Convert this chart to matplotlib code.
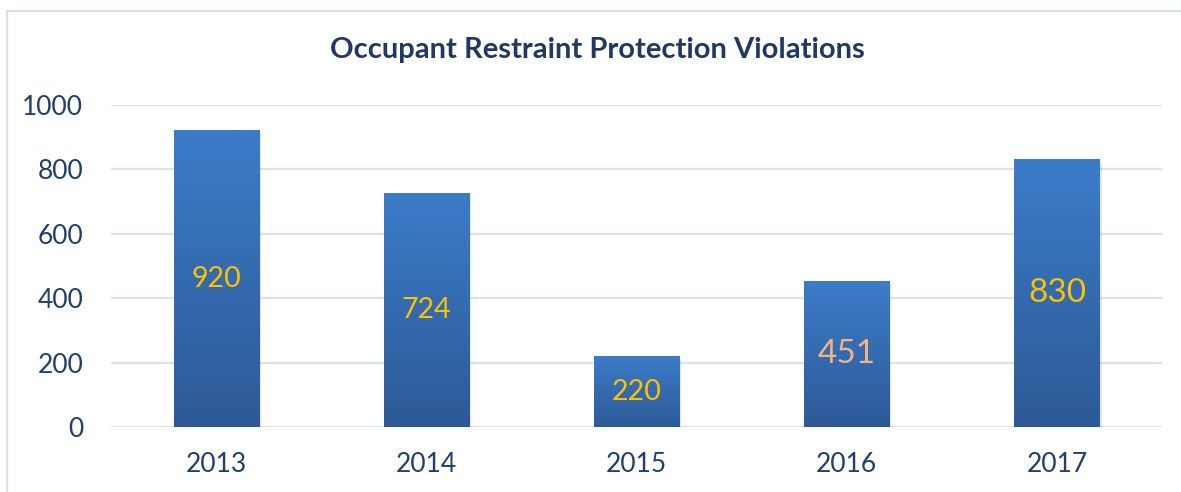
import matplotlib.pyplot as plt
import numpy as np
from matplotlib.colors import LinearSegmentedColormap
from matplotlib.lines import Line2D

years = ["2013", "2014", "2015", "2016", "2017"]
violations = [920, 724, 220, 451, 830]
yticks = [0, 200, 400, 600, 800, 1000]

label_colors = ["#FFC000", "#FFC000", "#FFC000", "#F4B183", "#FFC000"]
label_sizes = [20.5, 20.5, 20.5, 24, 24]

plt.rcParams['font.family'] = ['Lato', 'DejaVu Sans']
text_color = "#1F3F6E"

fig = plt.figure(figsize=(11.81, 4.92), dpi=100)
ax = fig.add_axes([111 / 1181, 1 - 427 / 492, (1162 - 111) / 1181, (427 - 105) / 492])

x = np.arange(len(years))
width = 0.405
grad = LinearSegmentedColormap.from_list("bar", ["#2D5A96", "#3B7CC9"])
gimg = np.linspace(0, 1, 256).reshape(-1, 1)

for i, v in enumerate(violations):
    # soft shadow
    ax.bar(x[i] + 0.01, v, width, bottom=-8, color="#000000", alpha=0.10, zorder=2, linewidth=0)
    ax.bar(x[i], v, width, color="#3370B8", zorder=3, linewidth=0)
    ax.imshow(gimg, cmap=grad, origin="lower", aspect="auto", zorder=3.5,
              extent=[x[i] - width / 2, x[i] + width / 2, 0, v], interpolation="bilinear")
    ax.text(x[i], v / 2, str(v), ha="center", va="center", color=label_colors[i],
            fontsize=label_sizes[i], zorder=5)

ax.set_xlim(-0.5, len(years) - 0.5)
ax.set_ylim(0, 1000)
ax.set_yticks(yticks)
ax.yaxis.grid(True, color="#D9E3F3", linewidth=1.6, zorder=0)
ax.set_axisbelow(True)
for s in ax.spines.values():
    s.set_visible(False)
ax.set_xticks(x)
ax.set_xticklabels(years)
ax.tick_params(axis="both", length=0, labelsize=19, labelcolor=text_color)
ax.tick_params(axis="y", pad=20)
ax.tick_params(axis="x", pad=18)

fig.text(0.506, 1 - 50 / 492, "Occupant Restraint Protection Violations", ha="center", va="center",
         fontsize=21, fontweight="bold", color="#1F3864")

# chart border
fig.add_artist(Line2D([7 / 1181, 7 / 1181], [0, 1 - 11 / 492], color="#D6E1F2", linewidth=1.5))
fig.add_artist(Line2D([7 / 1181, 1], [1 - 11 / 492, 1 - 11 / 492], color="#D6E1F2", linewidth=1.5))

fig.savefig("out.png", dpi=100)
